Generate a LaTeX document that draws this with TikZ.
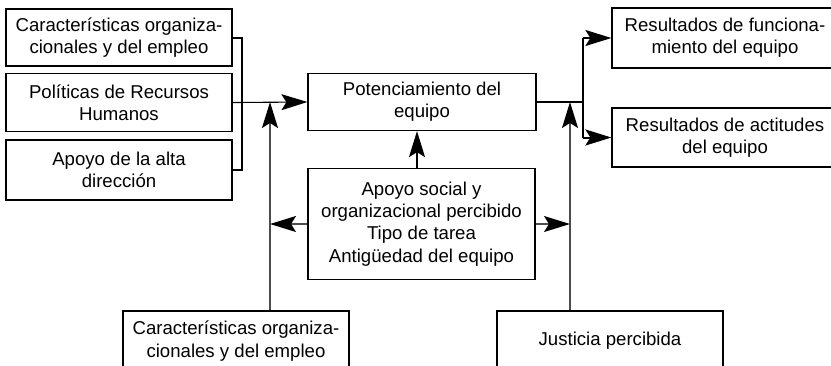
\documentclass[tikz,border=0pt]{standalone}
\usepackage{fontspec}
\setmainfont{Liberation Sans}
\usetikzlibrary{arrows.meta}
\tikzset{
  box/.style={draw, line width=1.2pt, inner sep=0pt, align=center,
    font=\fontsize{18.6}{22.3}\selectfont, text=black},
  arr/.style={-{Stealth[length=26pt,width=16pt,inset=5pt,color=black]}},
  thick line/.style={line width=2pt},
  thin line/.style={line width=1.1pt},
  gray line/.style={line width=1.4pt, draw=black!70},
}
\begin{document}
\begin{tikzpicture}[x=1pt,y=-1pt]
\useasboundingbox (0,0) rectangle (831,365);
\clip (0,0) rectangle (831,365);
% left boxes
\node[box, minimum width=226pt, minimum height=57pt] (A) at (119,37.5) {Características organiza-\\cionales y del empleo};
\node[box, minimum width=226pt, minimum height=58pt] (B) at (119,102.5) {Políticas de Recursos\\Humanos};
\node[box, minimum width=226pt, minimum height=60pt] (C) at (119,170) {Apoyo de la alta\\dirección};
% central
\node[box, minimum width=228pt, minimum height=57pt] (P) at (422,102) {Potenciamiento del\\equipo};
\node[box, minimum width=227pt, minimum height=111pt] (M) at (421.5,224) {Apoyo social y\\organizacional percibido\\Tipo de tarea\\Antigüedad del equipo};
% right boxes
\node[box, minimum width=226pt, minimum height=60pt] (R1) at (725,38) {Resultados de funciona-\\miento del equipo};
\node[box, minimum width=226pt, minimum height=59pt] (R2) at (725,137.5) {Resultados de actitudes\\del equipo};
% bottom boxes
\node[box, minimum width=226pt, minimum height=60pt] (BL) at (236,341) {Características organiza-\\cionales y del empleo};
\node[box, minimum width=226pt, minimum height=60pt] (BR) at (610,341) {Justicia percibida};
% junction coordinates
\coordinate (bk) at (242,102);
\coordinate (jl) at (270,102);
\coordinate (jr) at (570,102);
\coordinate (fk) at (583,102);
% left bracket
\draw[thick line] (A.east) -- (A.east -| bk) -- (bk |- C.east) -- (C.east);
\draw[thin line, arr] (B.east) -- (P.west);
% vertical from bottom left
\draw[gray line, arr] (jl |- BL.north) -- (jl);
\draw[gray line, arr] (M.west) -- (M.west -| jl);
% right side
\draw[thick line] (P.east) -- (fk);
\draw[thick line] (fk |- R1.west) -- (fk |- R2.west);
\draw[thick line, arr] (fk |- R1.west) -- (R1.west);
\draw[thick line, arr] (fk |- R2.west) -- (R2.west);
\draw[gray line, arr] (jr |- BR.north) -- (jr);
\draw[gray line, arr] (M.east) -- (M.east -| jr);
% up arrow
\draw[thick line, arr] (M.north -| 417,0) -- (P.south -| 417,0);
\end{tikzpicture}
\end{document}
